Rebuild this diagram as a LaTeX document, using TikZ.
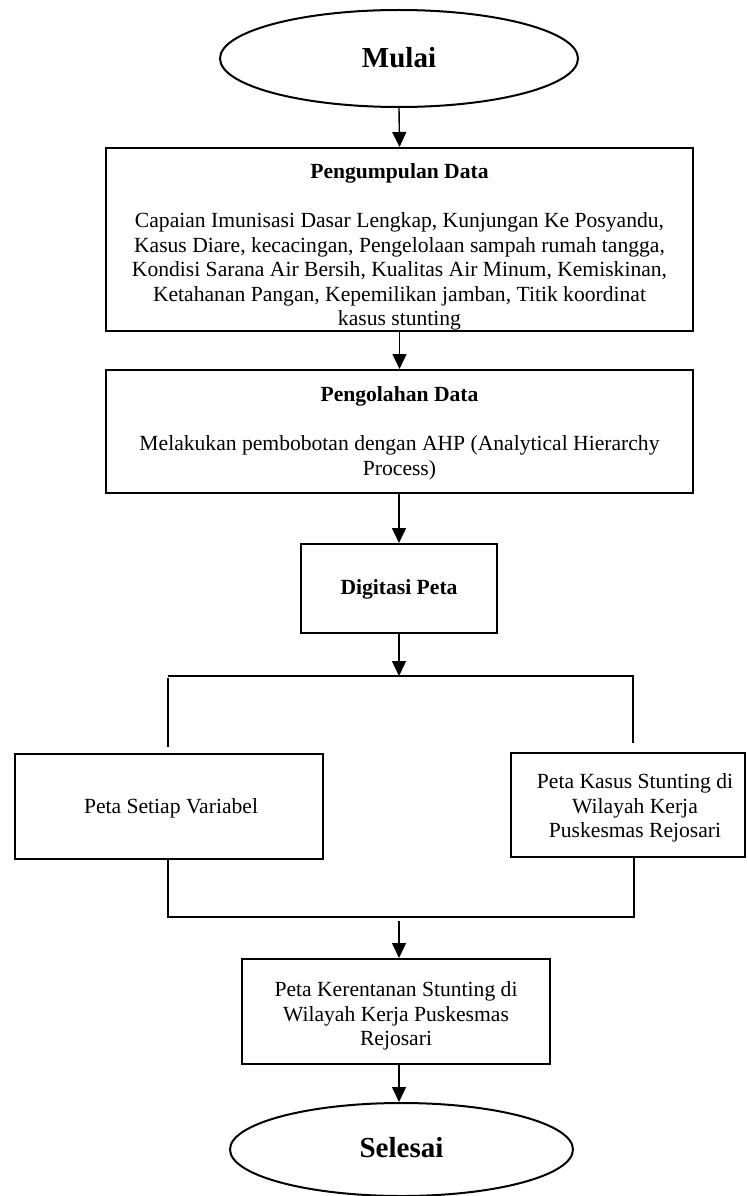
\documentclass[tikz,border=0pt]{standalone}
\usepackage{fontspec}
\setmainfont{Liberation Serif}
\usetikzlibrary{arrows.meta,shapes.geometric}
\tikzset{
  boxnode/.style={draw, line width=2pt, inner sep=0pt},
  oval/.style={draw, ellipse, line width=2pt, inner sep=0pt},
  txt/.style={align=center, inner sep=0pt, font=\fontsize{21.6}{24.5}\selectfont},
  bigtxt/.style={inner sep=0pt, font=\fontsize{29}{32}\selectfont\bfseries},
  arr/.style={-{Triangle[length=15pt,width=14pt]}, line width=1.4pt},
  thinline/.style={line width=1.1pt}
}
\begin{document}
\begin{tikzpicture}[x=1pt,y=-1pt]
\useasboundingbox (0,0) rectangle (747,1196);
% start
\node[oval, minimum width=358, minimum height=97] (mulai) at (399,58.5) {};
\node[bigtxt] (mulaitxt) at (399,58) {Mulai};
% box 1
\node[boxnode, minimum width=587, minimum height=183] (b1) at (399.5,239.5) {};
\node[txt] (b1txt) at (399.5,247) {\textbf{Pengumpulan Data}\\[24.5pt]Capaian Imunisasi Dasar Lengkap, Kunjungan Ke Posyandu,\\Kasus Diare, kecacingan, Pengelolaan sampah rumah tangga,\\Kondisi Sarana Air Bersih, Kualitas Air Minum, Kemiskinan,\\Ketahanan Pangan, Kepemilikan jamban, Titik koordinat\\kasus stunting};
% box 2
\node[boxnode, minimum width=587, minimum height=123] (b2) at (399.5,431.5) {};
\node[txt] (b2txt) at (399.5,433.5) {\textbf{Pengolahan Data}\\[24.5pt]Melakukan pembobotan dengan AHP (Analytical Hierarchy\\Process)};
% digitasi
\node[boxnode, minimum width=196, minimum height=89] (dig) at (399,588.5) {};
\node[txt] (digtxt) at (399,589) {\textbf{Digitasi Peta}};
% left and right boxes
\node[boxnode, minimum width=308, minimum height=105] (left) at (169,806.5) {};
\node[txt] (lefttxt) at (171,808) {Peta Setiap Variabel};
\node[boxnode, minimum width=234, minimum height=104] (right) at (628,805) {};
\node[txt] (righttxt) at (635,808) {Peta Kasus Stunting di\\Wilayah Kerja\\Puskesmas Rejosari};
% result box
\node[boxnode, minimum width=308, minimum height=105] (ker) at (396,1011.5) {};
\node[txt] (kertxt) at (396,1016) {Peta Kerentanan Stunting di\\Wilayah Kerja Puskesmas\\Rejosari};
% end
\node[oval, minimum width=343, minimum height=93] (sel) at (401.5,1149.5) {};
\node[bigtxt] (seltxt) at (401.5,1148) {Selesai};
% split coordinates
\coordinate (jtop) at (399,676);
\coordinate (tl) at (168,676);
\coordinate (tr) at (633,676);
\coordinate (tlv) at (168,678);
\coordinate (lvend) at (168,747);
\coordinate (rvend) at (633,743);
\coordinate (lbot) at (168,859);
\coordinate (rbot) at (634,857);
\coordinate (bl) at (168,917);
\coordinate (br) at (634,917);
\coordinate (jbot) at (399,921);
% connectors
\draw[arr] (mulai.south) -- (b1.north);
\draw[arr] (b1.south) -- (b2.north);
\draw[arr] (b2.south -| dig.north) -- (dig.north);
\draw[arr] (dig.south) -- (jtop);
\draw[thinline] (tl) -- (tr) -- (rvend);
\draw[thinline] (tlv) -- (lvend);
\draw[thinline] (lbot) -- (bl) -- (br) -- (rbot);
\draw[arr] (jbot) -- (jbot |- ker.north);
\draw[arr] (ker.south -| jbot) -- (jbot |- sel.north);
\end{tikzpicture}
\end{document}
